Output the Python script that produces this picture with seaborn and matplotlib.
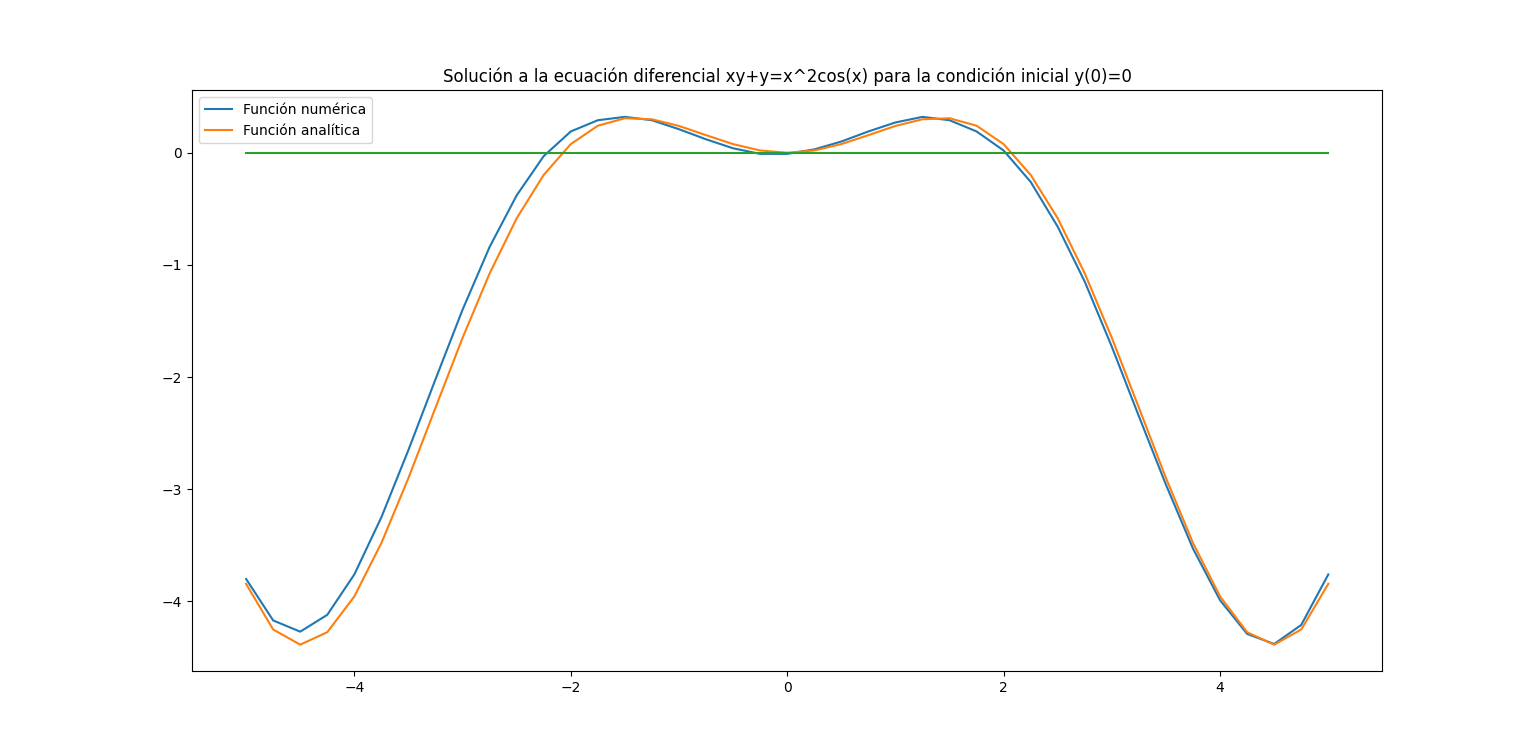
import numpy as np
import matplotlib
matplotlib.use('Agg')
import matplotlib.pyplot as plt
import seaborn as sns

# valores (paso 0.25)
x = np.arange(-5, 5.001, 0.25)

y_num = [-3.80, -4.17, -4.27, -4.12, -3.76, -3.25, -2.65, -2.02, -1.40, -0.84,
         -0.38, -0.03, 0.19, 0.29, 0.32, 0.29, 0.21, 0.12, 0.04, -0.01,
         -0.01, 0.03, 0.10, 0.19, 0.27, 0.32, 0.29, 0.19, 0.02, -0.26,
         -0.66, -1.15, -1.73, -2.35, -2.96, -3.53, -3.99, -4.29, -4.38, -4.21,
         -3.76]

y_half = [0.0, 0.0205, 0.0772, 0.1569, 0.2391, 0.2984, 0.3077, 0.2410, 0.0770,
          -0.1973, -0.5849, -1.0765, -1.6507, -2.2734, -2.9003, -3.4798,
          -3.9561, -4.2748, -4.386, -4.2507, -3.8437]
y_ana = y_half[::-1] + y_half[1:]

y_cero = [0.0] * len(x)

fig = plt.figure(figsize=(15.36, 7.54), dpi=100)
ax = fig.add_axes([0.125, 0.11, 0.775, 0.77])

sns.lineplot(x=x, y=y_num, ax=ax, color='tab:blue', label='Función numérica')
sns.lineplot(x=x, y=y_ana, ax=ax, color='tab:orange', label='Función analítica')
sns.lineplot(x=x, y=y_cero, ax=ax, color='tab:green')

ax.set_title('Solución a la ecuación diferencial xy+y=x^2cos(x) para la condición inicial y(0)=0')
ax.legend(loc='upper left')

fig.savefig('out.png', dpi=100)
